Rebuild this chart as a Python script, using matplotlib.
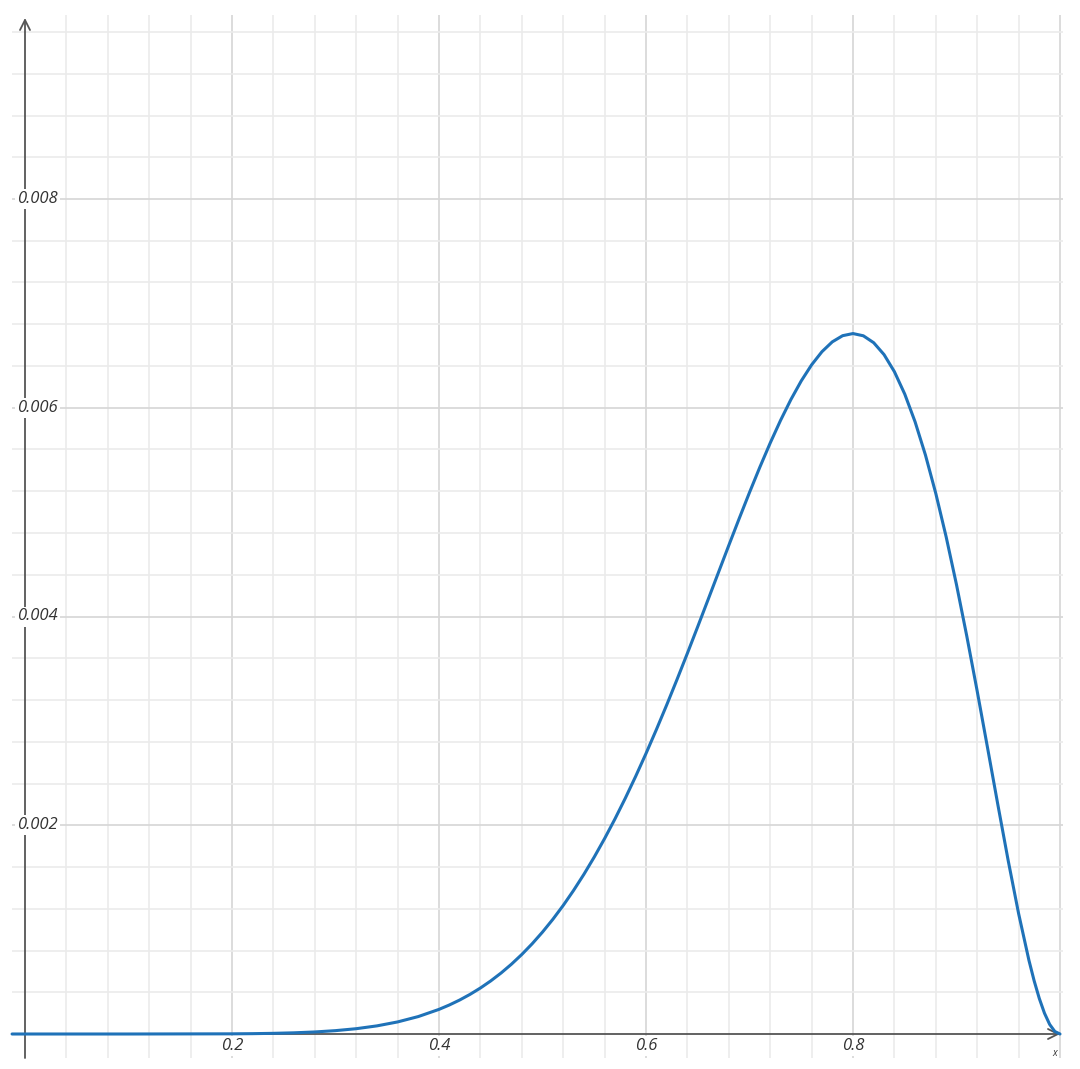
import numpy as np
import matplotlib.pyplot as plt
from matplotlib.transforms import offset_copy

# curve
x_vals = [-0.0125, 0.0, 0.1, 0.2, 0.22, 0.24, 0.26, 0.28, 0.30, 0.32, 0.34, 0.36, 0.38,
          0.40, 0.41, 0.42, 0.43, 0.44, 0.45, 0.46, 0.47, 0.48, 0.49, 0.50,
          0.51, 0.52, 0.53, 0.54, 0.55, 0.56, 0.57, 0.58, 0.59, 0.60,
          0.61, 0.62, 0.63, 0.64, 0.65, 0.66, 0.67, 0.68, 0.69, 0.70,
          0.71, 0.72, 0.73, 0.74, 0.75, 0.76, 0.77, 0.78, 0.79, 0.80,
          0.81, 0.82, 0.83, 0.84, 0.85, 0.86, 0.87, 0.88, 0.89, 0.90,
          0.91, 0.92, 0.93, 0.94, 0.95, 0.96, 0.97, 0.975, 0.98, 0.985,
          0.99, 0.995, 1.00]
y_vals = [0.0, 0.0, 0.0, 0.0000016, 0.0000033, 0.0000064, 0.0000114, 0.0000196,
          0.0000322, 0.0000508, 0.0000778, 0.0001156, 0.0001671,
          0.0002359, 0.0002780, 0.0003257, 0.0003798, 0.0004406, 0.0005087,
          0.0005846, 0.0006689, 0.0007620, 0.0008644, 0.0009766,
          0.0010989, 0.0012317, 0.0013754, 0.0015299, 0.0016956,
          0.0018725, 0.0020603, 0.0022590, 0.0024682, 0.0026874,
          0.0029159, 0.0031528, 0.0033973, 0.0036479, 0.0039034,
          0.0041621, 0.0044221, 0.0046814, 0.0049376, 0.0051883,
          0.0054308, 0.0056621, 0.0058791, 0.0060786, 0.0062571,
          0.0064111, 0.0065371, 0.0066314, 0.0066905, 0.0067109,
          0.0066894, 0.0066230, 0.0065091, 0.0063456, 0.0061310,
          0.0058647, 0.0055468, 0.0051787, 0.0047633, 0.0043047,
          0.0038090, 0.0032846, 0.0027420, 0.0021945, 0.0016586,
          0.0011542, 0.0007054, 0.0005104, 0.0003403, 0.0001994,
          0.0000923, 0.0000240, 0.0]

x_ticks = [0.2, 0.4, 0.6, 0.8]
x_tick_labels = ['0.2', '0.4', '0.6', '0.8']
y_ticks = [0.002, 0.004, 0.006, 0.008]
y_tick_labels = ['0.002', '0.004', '0.006', '0.008']

W, H = 1080, 1069
fig = plt.figure(figsize=(W / 100, H / 100), dpi=100)
# axes box = grid area in pixels
left, right, top, bottom = 12, 1063, 15, 1058
ax = fig.add_axes([left / W, 1 - bottom / H, (right - left) / W, (bottom - top) / H])

# data <-> pixel mapping from the picture
x0_px, x1_px = 25, 1060
y0_px, yscale = 1034, 104375.0
xmin = (left - x0_px) / (x1_px - x0_px)
xmax = (right - x0_px) / (x1_px - x0_px)
ymin = (y0_px - bottom) / yscale
ymax = (y0_px - top) / yscale
ax.set_xlim(xmin, xmax)
ax.set_ylim(ymin, ymax)

# grid
for gx in np.arange(0.04, 1.001, 0.04):
    major = abs(gx / 0.2 - round(gx / 0.2)) < 1e-6
    ax.axvline(gx, color='#d6d6d6' if major else '#ebebeb', lw=1.2, zorder=0)
for gy in np.arange(0.0004, 0.00961, 0.0004):
    major = abs(gy / 0.002 - round(gy / 0.002)) < 1e-6
    ax.axhline(gy, color='#d6d6d6' if major else '#ebebeb', lw=1.2, zorder=0)

for s in ax.spines.values():
    s.set_visible(False)
ax.set_xticks([])
ax.set_yticks([])

# axes with arrows
axis_col = '#555555'
ax.annotate('', xy=(1.0, 0), xytext=(xmin, 0),
            arrowprops=dict(arrowstyle='->', color=axis_col, lw=1.3,
                            mutation_scale=18, shrinkA=0, shrinkB=0), zorder=2)
ax.annotate('', xy=(0, (y0_px - 18) / yscale), xytext=(0, ymin),
            arrowprops=dict(arrowstyle='->', color=axis_col, lw=1.3,
                            mutation_scale=18, shrinkA=0, shrinkB=0), zorder=2)

font = dict(family=['Open Sans', 'DejaVu Sans'], style='italic', size=12, color='#333333')
box = dict(facecolor='white', edgecolor='none', pad=1.5)

tr_x = offset_copy(ax.transData, fig=fig, x=0, y=-4, units='dots')
for t, lab in zip(x_ticks, x_tick_labels):
    ax.text(t, 0, lab, transform=tr_x, ha='center', va='top', bbox=box, zorder=3, **font)

tr_y = offset_copy(ax.transData, fig=fig, x=-8, y=0, units='dots')
for t, lab in zip(y_ticks, y_tick_labels):
    ax.text(0, t, lab, transform=tr_y, ha='left', va='center', bbox=box, zorder=3, **font)

ax.text(1.0, 0, 'x', transform=offset_copy(ax.transData, fig=fig, x=-5, y=-14, units='dots'),
        ha='center', va='top', family=['Open Sans', 'DejaVu Sans'], style='italic',
        size=7, color='#333333')

ax.plot(x_vals, y_vals, color='#1f72b8', lw=2.2, solid_capstyle='round', zorder=4,
        clip_on=False)

fig.savefig('out.png', dpi=100)
